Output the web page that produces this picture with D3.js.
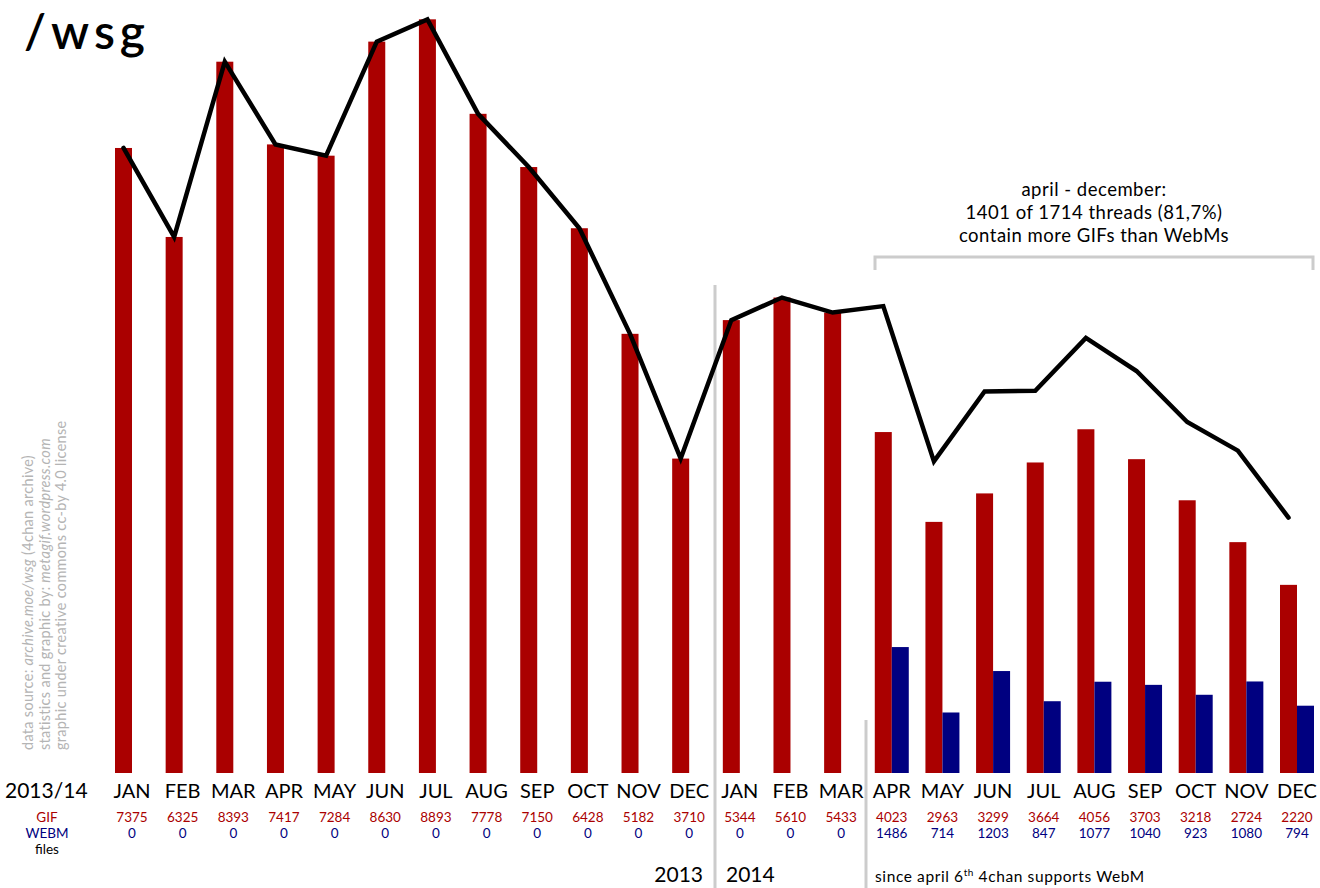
<!DOCTYPE html>
<html><head><meta charset="utf-8">
<script src="https://cdn.jsdelivr.net/npm/d3@7"></script>
<style>
html,body{margin:0;padding:0;background:#fff;}
svg{display:block;font-family:Lato,"Noto Sans",sans-serif;}
</style></head>
<body>
<svg id="c" width="1320" height="888"></svg>
<script>
const months = ["JAN","FEB","MAR","APR","MAY","JUN","JUL","AUG","SEP","OCT","NOV","DEC",
                "JAN","FEB","MAR","APR","MAY","JUN","JUL","AUG","SEP","OCT","NOV","DEC"];
const gifValues = [7375,6325,8393,7417,7284,8630,8893,7778,7150,6428,5182,3710,
                   5344,5610,5433,4023,2963,3299,3664,4056,3703,3218,2724,2220];
const webmValues = [0,0,0,0,0,0,0,0,0,0,0,0,
                    0,0,0,1486,714,1203,847,1077,1040,923,1080,794];
const yearLabels = ["2013","2014"];
const noteLines = ["april - december:","1401 of 1714 threads (81,7%)","contain more GIFs than WebMs"];
const creditLines = [
  [["data source: ",false],["archive.moe/wsg",true],[" (4chan archive)",false]],
  [["statistics and graphic by: ",false],["metagif.wordpress.com",true]],
  [["graphic under creative commons cc-by 4.0 license",false]]
];

const RED = "#aa0000", BLUE = "#000080", GRAY = "#cccccc";
const svg = d3.select("#c");
const x = d3.scaleLinear().domain([0, 23]).range([115, 1280]);
const y = d3.scaleLinear().domain([0, 9121]).range([773, 0]);
const bw = 17;
const idx = d3.range(months.length);

// separators
svg.append("line").attr("x1",715).attr("x2",715).attr("y1",285).attr("y2",888)
  .attr("stroke",GRAY).attr("stroke-width",3);
svg.append("line").attr("x1",866).attr("x2",866).attr("y1",720).attr("y2",888)
  .attr("stroke",GRAY).attr("stroke-width",3);
svg.append("path").attr("d","M875,270V257H1313V270").attr("fill","none")
  .attr("stroke",GRAY).attr("stroke-width",3);

// bars
svg.append("g").selectAll("rect").data(idx).join("rect")
  .attr("x", i => x(i)).attr("width", bw)
  .attr("y", i => y(gifValues[i])).attr("height", i => y(0) - y(gifValues[i]))
  .attr("fill", RED);
svg.append("g").selectAll("rect").data(idx.filter(i => webmValues[i] > 0)).join("rect")
  .attr("x", i => x(i) + bw).attr("width", bw)
  .attr("y", i => y(webmValues[i])).attr("height", i => y(0) - y(webmValues[i]))
  .attr("fill", BLUE);

// total line
const line = d3.line().x(i => x(i) + bw/2).y(i => y(gifValues[i] + webmValues[i]));
svg.append("path").datum(idx).attr("d", line).attr("fill","none")
  .attr("stroke","#000").attr("stroke-width",4.5).attr("stroke-linecap","round");

// title
svg.append("text").attr("x",24).attr("y",49).attr("font-size",48).attr("font-weight",600)
  .attr("letter-spacing",5).attr("fill","#000").text("/wsg");

// axis labels
svg.append("text").attr("x",5).attr("y",798).attr("font-size",21).text("2013/14");
const g = svg.append("g").attr("text-anchor","middle");
g.selectAll(".m").data(idx).join("text").attr("class","m")
  .attr("x", i => x(i) + bw).attr("y",798).attr("font-size",20).text(i => months[i]);
g.selectAll(".gv").data(idx).join("text").attr("class","gv")
  .attr("x", i => x(i) + bw).attr("y",822).attr("font-size",13.5).attr("fill",RED).text(i => gifValues[i]);
g.selectAll(".wv").data(idx).join("text").attr("class","wv")
  .attr("x", i => x(i) + bw).attr("y",838).attr("font-size",13.5).attr("fill",BLUE).text(i => webmValues[i]);
g.append("text").attr("x",47).attr("y",822).attr("font-size",13.5).attr("fill",RED).text("GIF");
g.append("text").attr("x",47).attr("y",838).attr("font-size",13.5).attr("fill",BLUE).text("WEBM");
g.append("text").attr("x",47).attr("y",854).attr("font-size",13.5).attr("fill","#000").text("files");

// years
svg.append("text").attr("x",703).attr("y",882).attr("font-size",21).attr("text-anchor","end").text(yearLabels[0]);
svg.append("text").attr("x",726).attr("y",882).attr("font-size",21).text(yearLabels[1]);

// footnote
const fn = svg.append("text").attr("x",875).attr("y",882).attr("font-size",15.5).attr("letter-spacing",0.6);
fn.append("tspan").text("since april 6");
fn.append("tspan").attr("dy",-6).attr("font-size",10).text("th");
fn.append("tspan").attr("dy",6).text(" 4chan supports WebM");

// note
svg.append("g").attr("text-anchor","middle").selectAll("text").data(noteLines).join("text")
  .attr("x",1094).attr("y",(d,i) => 196 + i*23).attr("font-size",18.5).attr("letter-spacing",0.5).text(d => d);

// credits (rotated)
creditLines.forEach((parts, li) => {
  const t = svg.append("text").attr("transform",`translate(${33 + li*16.5},750) rotate(-90)`)
    .attr("font-size",14.5).attr("letter-spacing",0.3).attr("fill","#b4b4b4");
  parts.forEach(p => t.append("tspan").attr("font-style", p[1] ? "italic" : "normal").text(p[0]));
});
</script>
</body></html>
